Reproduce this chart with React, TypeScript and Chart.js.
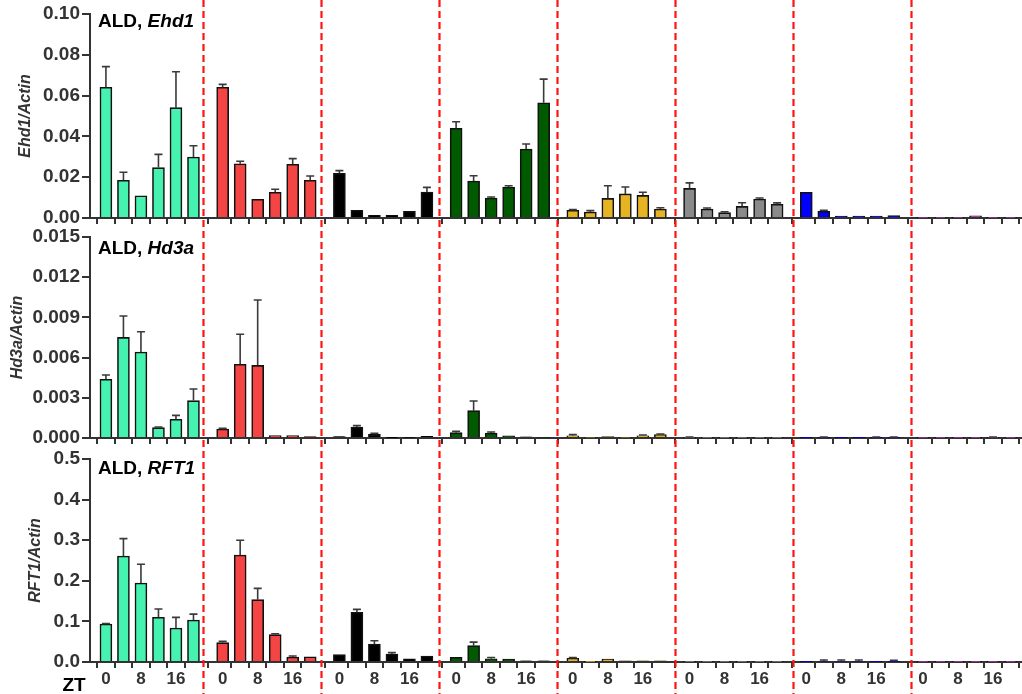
import React, { useEffect, useRef } from "react";
import { Chart, registerables } from "chart.js";
Chart.register(...registerables);

// ZT time points (hours) and tick labels
const ztHours = [0, 4, 8, 12, 16, 20];
const ztLabels = ["0", "", "8", "", "16", ""];
// eight lines/genotypes, one colour each
const groupColors = ["#45F2B0", "#F54444", "#000000", "#005A00", "#E6B322", "#8A8A8A", "#0000FF", "#B03CB0"];

// ALD, Ehd1 / Actin
const ehd1Mean = [
  [0.0641, 0.0185, 0.0109, 0.0247, 0.0541, 0.0299],
  [0.0641, 0.0266, 0.0092, 0.0126, 0.0263, 0.0185],
  [0.0219, 0.0038, 0.0013, 0.0013, 0.0033, 0.0127],
  [0.0440, 0.0181, 0.0098, 0.0152, 0.0338, 0.0565],
  [0.0038, 0.0029, 0.0096, 0.0118, 0.0111, 0.0044],
  [0.0145, 0.0044, 0.0026, 0.0057, 0.0093, 0.0067],
  [0.0126, 0.0033, 0.0010, 0.0010, 0.0010, 0.0012],
  [0.0001, 0.0002, 0.0001, 0.0011, 0.0002, 0.0001],
];
const ehd1Err = [
  [0.0101, 0.0039, 0.0002, 0.0065, 0.0176, 0.0055],
  [0.0014, 0.0012, 0.0002, 0.0015, 0.0028, 0.0021],
  [0.0013, 0.0002, 0.0002, 0.0002, 0.0002, 0.0023],
  [0.0032, 0.0026, 0.0005, 0.0006, 0.0025, 0.0116],
  [0.0003, 0.0007, 0.0062, 0.0034, 0.0015, 0.0006],
  [0.0027, 0.0005, 0.0005, 0.0018, 0.0005, 0.0007],
  [0.0002, 0.0005, 0.0002, 0.0002, 0.0002, 0.0002],
  [0.0000, 0.0000, 0.0000, 0.0002, 0.0000, 0.0000],
];

// ALD, Hd3a / Actin
const hd3aMean = [
  [0.00438, 0.00751, 0.00642, 0.00077, 0.00140, 0.00279],
  [0.00067, 0.00550, 0.00542, 0.00018, 0.00018, 0.00010],
  [0.00010, 0.00082, 0.00030, 0.00003, 0.00005, 0.00013],
  [0.00040, 0.00204, 0.00037, 0.00017, 0.00008, 0.00005],
  [0.00017, 0.00005, 0.00010, 0.00005, 0.00017, 0.00025],
  [0.00003, 0.00002, 0.00002, 0.00002, 0.00002, 0.00002],
  [0.00002, 0.00003, 0.00002, 0.00002, 0.00003, 0.00003],
  [0.00002, 0.00002, 0.00002, 0.00002, 0.00003, 0.00002],
];
const hd3aErr = [
  [0.00032, 0.00159, 0.00151, 0.00005, 0.00029, 0.00087],
  [0.00005, 0.00224, 0.00488, 0.00002, 0.00002, 0.00002],
  [0.00002, 0.00010, 0.00005, 0.00001, 0.00001, 0.00003],
  [0.00010, 0.00072, 0.00008, 0.00003, 0.00002, 0.00002],
  [0.00008, 0.00002, 0.00003, 0.00002, 0.00005, 0.00005],
  [0.00004, 0.00001, 0.00001, 0.00001, 0.00001, 0.00001],
  [0.00001, 0.00004, 0.00001, 0.00001, 0.00004, 0.00004],
  [0.00001, 0.00001, 0.00001, 0.00001, 0.00005, 0.00001],
];

// ALD, RFT1 / Actin
const rft1Mean = [
  [0.0936, 0.2610, 0.1946, 0.1100, 0.0837, 0.1034],
  [0.0476, 0.2635, 0.1535, 0.0673, 0.0123, 0.0130],
  [0.0180, 0.1223, 0.0443, 0.0197, 0.0080, 0.0148],
  [0.0115, 0.0402, 0.0080, 0.0070, 0.0030, 0.0030],
  [0.0090, 0.0010, 0.0075, 0.0030, 0.0030, 0.0030],
  [0.0010, 0.0010, 0.0010, 0.0010, 0.0010, 0.0010],
  [0.0005, 0.0020, 0.0020, 0.0020, 0.0005, 0.0010],
  [0.0002, 0.0002, 0.0002, 0.0002, 0.0002, 0.0002],
];
const rft1Err = [
  [0.0014, 0.0430, 0.0460, 0.0205, 0.0263, 0.0146],
  [0.0033, 0.0362, 0.0279, 0.0024, 0.0025, 0.0010],
  [0.0010, 0.0074, 0.0082, 0.0033, 0.0010, 0.0012],
  [0.0010, 0.0088, 0.0030, 0.0010, 0.0005, 0.0005],
  [0.0017, 0.0005, 0.0010, 0.0005, 0.0005, 0.0005],
  [0.0005, 0.0005, 0.0005, 0.0005, 0.0005, 0.0005],
  [0.0002, 0.0030, 0.0030, 0.0030, 0.0002, 0.0030],
  [0.0001, 0.0001, 0.0001, 0.0001, 0.0001, 0.0001],
];

const GROUP_PERIOD = 20 / 3; // slots per group (6 bars + gap)
const FONT = "'Liberation Sans', Arial, Helvetica, sans-serif";
const W = 1022;
const H = 694;

type PanelCfg = {
  gene: string;
  means: number[][];
  errs: number[][];
  max: number;
  step: number;
  decimals: number;
  padTop: number;
  padBottom: number;
  xHeight: number;
  showXLabels: boolean;
  titleOffset: number;
  yTitlePad: number;
  last: boolean;
};

const panels: PanelCfg[] = [
  { gene: "Ehd1", means: ehd1Mean, errs: ehd1Err, max: 0.1, step: 0.02, decimals: 2, padTop: 14, padBottom: H - 218 - 12, xHeight: 12, showXLabels: false, titleOffset: 13, yTitlePad: 16, last: false },
  { gene: "Hd3a", means: hd3aMean, errs: hd3aErr, max: 0.015, step: 0.003, decimals: 3, padTop: 237, padBottom: H - 438 - 12, xHeight: 12, showXLabels: false, titleOffset: 17, yTitlePad: 8, last: false },
  { gene: "RFT1", means: rft1Mean, errs: rft1Err, max: 0.5, step: 0.1, decimals: 1, padTop: 459, padBottom: 0, xHeight: H - 662, showXLabels: true, titleOffset: 15, yTitlePad: 26, last: true },
];

function buildConfig(p: PanelCfg): any {
  const points: { x: number; y: number }[] = [];
  const colors: string[] = [];
  const errs: number[] = [];
  p.means.forEach((grp, g) => {
    grp.forEach((v, i) => {
      points.push({ x: g * GROUP_PERIOD + i, y: v });
      colors.push(groupColors[g]);
      errs.push(p.errs[g][i]);
    });
  });
  const tickPositions = points.map((pt) => pt.x);

  const errorBars = {
    id: "errorBars",
    afterDatasetsDraw(chart: any) {
      const meta = chart.getDatasetMeta(0);
      const ys = chart.scales.y;
      const ctx = chart.ctx;
      ctx.save();
      ctx.strokeStyle = "#3a3a3a";
      ctx.lineWidth = 1.6;
      meta.data.forEach((el: any, i: number) => {
        const e = errs[i];
        if (!(e > 0)) return;
        const top = ys.getPixelForValue(points[i].y + e);
        if (el.y - top < 0.5) return;
        ctx.beginPath();
        ctx.moveTo(el.x, el.y);
        ctx.lineTo(el.x, top);
        ctx.moveTo(el.x - 4, top);
        ctx.lineTo(el.x + 4, top);
        ctx.stroke();
      });
      ctx.restore();
    },
  };

  const titlePlugin = {
    id: "panelTitle",
    afterDraw(chart: any) {
      const ctx = chart.ctx;
      const a = chart.chartArea;
      const x = a.left + 8;
      const y = a.top + p.titleOffset;
      ctx.save();
      ctx.fillStyle = "#000";
      ctx.textBaseline = "alphabetic";
      ctx.font = `bold 19px ${FONT}`;
      const lead = "ALD, ";
      ctx.fillText(lead, x, y);
      const w = ctx.measureText(lead).width;
      ctx.font = `italic bold 19px ${FONT}`;
      ctx.fillText(p.gene, x + w, y);
      if (p.last) {
        ctx.font = `bold 19px ${FONT}`;
        ctx.textAlign = "center";
        ctx.fillText("ZT", 74, 691);
        // red dashed separators between genotype groups, across the whole figure
        const xs = chart.scales.x;
        ctx.strokeStyle = "#FF1414";
        ctx.lineWidth = 2.2;
        ctx.setLineDash([7, 4]);
        for (let k = 0; k < groupColors.length - 1; k++) {
          const px = Math.round(xs.getPixelForValue(5.543 + k * 6.739)) + 0.5;
          ctx.beginPath();
          ctx.moveTo(px, 0);
          ctx.lineTo(px, H);
          ctx.stroke();
        }
      }
      ctx.restore();
    },
  };

  return {
    type: "bar",
    data: {
      datasets: [
        {
          data: points,
          backgroundColor: colors,
          borderColor: "#111",
          borderWidth: 1.6,
          barThickness: 12,
          grouped: false,
        },
      ],
    },
    options: {
      animation: false,
      responsive: false,
      maintainAspectRatio: false,
      layout: { padding: { top: p.padTop, bottom: p.padBottom, left: 0, right: 0 } },
      plugins: { legend: { display: false }, tooltip: { enabled: false }, title: { display: false } },
      scales: {
        x: {
          type: "linear",
          min: -0.91,
          max: 52.32,
          offset: false,
          afterBuildTicks: (s: any) => {
            s.ticks = tickPositions.map((v) => ({ value: v }));
          },
          afterFit: (s: any) => {
            s.height = p.xHeight;
          },
          ticks: {
            display: p.showXLabels,
            autoSkip: false,
            maxRotation: 0,
            padding: 1,
            color: "#333",
            font: { family: FONT, weight: "bold", size: 17 },
            callback: (_v: any, idx: number) => ztLabels[idx % ztHours.length],
          },
          grid: { drawOnChartArea: false, drawTicks: true, tickLength: 6, color: "#333", lineWidth: 2 },
          border: { display: true, color: "#333", width: 2 },
        },
        y: {
          min: 0,
          max: p.max,
          afterFit: (s: any) => {
            s.width = 90;
          },
          ticks: {
            stepSize: p.step,
            padding: 2,
            color: "#333",
            font: { family: FONT, weight: "bold", size: 19 },
            callback: (v: any) => Number(v).toFixed(p.decimals),
          },
          grid: { drawOnChartArea: false, drawTicks: true, tickLength: 8, color: "#333", lineWidth: 2 },
          border: { display: true, color: "#333", width: 2 },
          title: {
            display: true,
            text: `${p.gene}/Actin`,
            color: "#333",
            font: { family: FONT, style: "italic", weight: "bold", size: 16 },
            padding: { top: p.yTitlePad, bottom: 0 },
          },
        },
      },
    },
    plugins: [errorBars, titlePlugin],
  };
}

function Panel({ cfg }: { cfg: PanelCfg }) {
  const ref = useRef<HTMLCanvasElement | null>(null);
  useEffect(() => {
    if (!ref.current) return;
    const chart = new Chart(ref.current, buildConfig(cfg));
    return () => chart.destroy();
  }, [cfg]);
  return (
    <canvas
      ref={ref}
      width={W}
      height={H}
      style={{ position: "absolute", left: 0, top: 0, width: W, height: H }}
    />
  );
}

export default function App() {
  return (
    <div style={{ position: "fixed", left: 0, top: 0, width: W, height: H, background: "#fff", overflow: "hidden" }}>
      {panels.map((p) => (
        <Panel key={p.gene} cfg={p} />
      ))}
    </div>
  );
}
